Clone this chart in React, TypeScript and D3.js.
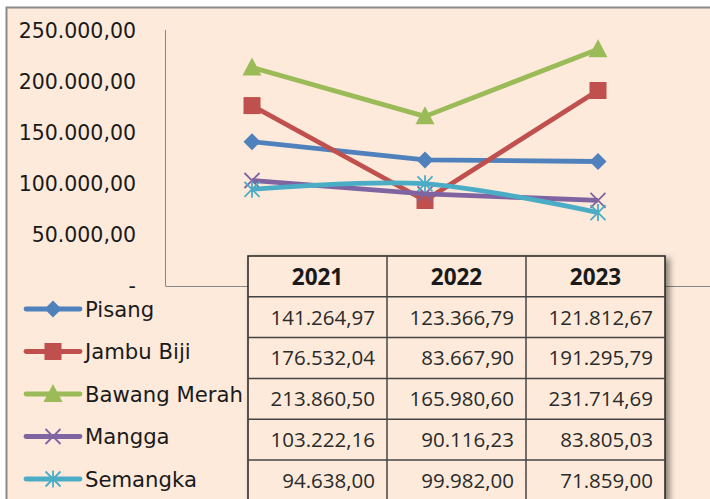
import React from 'react';
import * as d3 from 'd3';

const years = ['2021', '2022', '2023'];
const seriesNames = ['Pisang', 'Jambu Biji', 'Bawang Merah', 'Mangga', 'Semangka'];
const pisang = [141264.97, 123366.79, 121812.67];
const jambuBiji = [176532.04, 83667.9, 191295.79];
const bawangMerah = [213860.5, 165980.6, 231714.69];
const mangga = [103222.16, 90116.23, 83805.03];
const semangka = [94638.0, 99982.0, 71859.0];
const yTicks = [0, 50000, 100000, 150000, 200000, 250000];

const seriesValues = [pisang, jambuBiji, bawangMerah, mangga, semangka];
const colors = ['#4F81BD', '#C0504D', '#9BBB59', '#8064A2', '#4BACC6'];
const markers = ['diamond', 'square', 'triangle', 'x', 'star'];
const smooth = [false, false, false, false, true];

const idLocale = d3.formatLocale({ decimal: ',', thousands: '.', grouping: [3], currency: ['', ''] });
const fmt = idLocale.format(',.2f');
const tickFmt = (v: number) => (v === 0 ? '-' : fmt(v));

const Marker = ({ type, x, y, color }: { type: string; x: number; y: number; color: string }) => {
  if (type === 'diamond') {
    const r = 8.5;
    return <path d={`M${x},${y - r}L${x + r},${y}L${x},${y + r}L${x - r},${y}Z`} fill={color} />;
  }
  if (type === 'square') {
    const s = 8.5;
    return <rect x={x - s} y={y - s} width={s * 2} height={s * 2} fill={color} />;
  }
  if (type === 'triangle') {
    const w = 9.5;
    return <path d={`M${x},${y - 10}L${x + w},${y + 8}L${x - w},${y + 8}Z`} fill={color} />;
  }
  if (type === 'x') {
    const s = 7.5;
    return (
      <path d={`M${x - s},${y - s}L${x + s},${y + s}M${x - s},${y + s}L${x + s},${y - s}`} stroke={color} strokeWidth={1.8} />
    );
  }
  const s = 7.5;
  return (
    <path
      d={`M${x - s},${y - s}L${x + s},${y + s}M${x - s},${y + s}L${x + s},${y - s}M${x},${y - s - 1}L${x},${y + s + 1}`}
      stroke={color}
      strokeWidth={1.8}
    />
  );
};

export default function App() {
  const W = 710;
  const H = 499;

  const x = d3.scaleBand().domain(years).range([165.5, 684.5]);
  const y = d3.scaleLinear().domain([0, 250000]).range([286, 30.5]);
  const cx = (yr: string) => (x(yr) as number) + x.bandwidth() / 2;

  const tableCol = d3.scaleBand().domain(years).range([248, 665]);
  const tableRow = d3.scaleBand().domain(['header', ...seriesNames]).range([256, 256 + 6 * 40.8]);
  const legendY = d3.scalePoint().domain(seriesNames).range([309, 479]);

  const lineStraight = d3.line<number>().x((_, i) => cx(years[i])).y((d) => y(d));
  const lineSmooth = d3
    .line<number>()
    .x((_, i) => cx(years[i]))
    .y((d) => y(d))
    .curve(d3.curveCatmullRom.alpha(0));

  return (
    <svg width={W} height={H} style={{ position: 'absolute', left: 0, top: 0 }}>
      <defs>
        <filter id="shadow" x="-10%" y="-10%" width="130%" height="130%">
          <feDropShadow dx="4" dy="3" stdDeviation="3" floodColor="#000" floodOpacity="0.45" />
        </filter>
      </defs>
      <rect x={0} y={0} width={W} height={H} fill="#ffffff" />
      <rect x={6.5} y={7.5} width={W + 10} height={H + 10} fill="#FDEADA" stroke="#8a8a8a" strokeWidth={2} />

      {/* axes */}
      <line x1={165.5} x2={165.5} y1={30} y2={286} stroke="#868686" strokeWidth={1} />
      <line x1={165.5} x2={W} y1={286.5} y2={286.5} stroke="#868686" strokeWidth={1} />
      {yTicks.map((t) => (
        <text
          key={t}
          x={136}
          y={y(t)}
          dy="0.36em"
          textAnchor="end"
          fontFamily="DejaVu Sans"
          fontSize={20.5}
          fill="#1a1a1a"
        >
          {tickFmt(t)}
        </text>
      ))}

      {/* series */}
      {seriesValues.map((vals, si) => (
        <g key={seriesNames[si]}>
          <path
            d={(smooth[si] ? lineSmooth : lineStraight)(vals) as string}
            fill="none"
            stroke={colors[si]}
            strokeWidth={4.8}
            strokeLinejoin="round"
          />
          {vals.map((v, i) => (
            <Marker key={i} type={markers[si]} x={cx(years[i])} y={y(v)} color={colors[si]} />
          ))}
        </g>
      ))}

      {/* legend */}
      {seriesNames.map((name, si) => {
        const ly = legendY(name) as number;
        return (
          <g key={name}>
            <line x1={26} x2={80} y1={ly} y2={ly} stroke={colors[si]} strokeWidth={4.8} strokeLinecap="round" />
            <Marker type={markers[si]} x={53} y={ly} color={colors[si]} />
            <text x={85} y={ly} dy="0.36em" fontFamily="DejaVu Sans" fontSize={21.2} fill="#1a1a1a">
              {name}
            </text>
          </g>
        );
      })}

      {/* data table */}
      <g>
        <rect
          x={248}
          y={256}
          width={417}
          height={6 * 40.8}
          fill="#FDEADA"
          stroke="#222"
          strokeWidth={1.5}
          filter="url(#shadow)"
        />
        {years.map((yr) => (
          <text
            key={yr}
            x={(tableCol(yr) as number) + tableCol.bandwidth() / 2}
            y={(tableRow('header') as number) + tableRow.bandwidth() / 2}
            dy="0.36em"
            textAnchor="middle"
            fontFamily="Open Sans"
            fontWeight="bold"
            fontSize={22.5}
            fill="#1a1a1a"
          >
            {yr}
          </text>
        ))}
        {years.slice(1).map((yr) => (
          <line
            key={yr}
            x1={tableCol(yr) as number}
            x2={tableCol(yr) as number}
            y1={256}
            y2={H}
            stroke="#444"
            strokeWidth={1.5}
          />
        ))}
        {seriesNames.map((name) => (
          <line
            key={name}
            x1={248}
            x2={665}
            y1={tableRow(name) as number}
            y2={tableRow(name) as number}
            stroke="#444"
            strokeWidth={1.5}
          />
        ))}
        {seriesValues.map((vals, si) =>
          vals.map((v, i) => (
            <text
              key={`${si}-${i}`}
              x={(tableCol(years[i]) as number) + tableCol.bandwidth() - 12}
              y={(tableRow(seriesNames[si]) as number) + tableRow.bandwidth() / 2}
              dy="0.36em"
              textAnchor="end"
              fontFamily="Open Sans"
              fontSize={20.5}
              fill="#2a2a2a"
            >
              {fmt(v)}
            </text>
          ))
        )}
      </g>
    </svg>
  );
}
